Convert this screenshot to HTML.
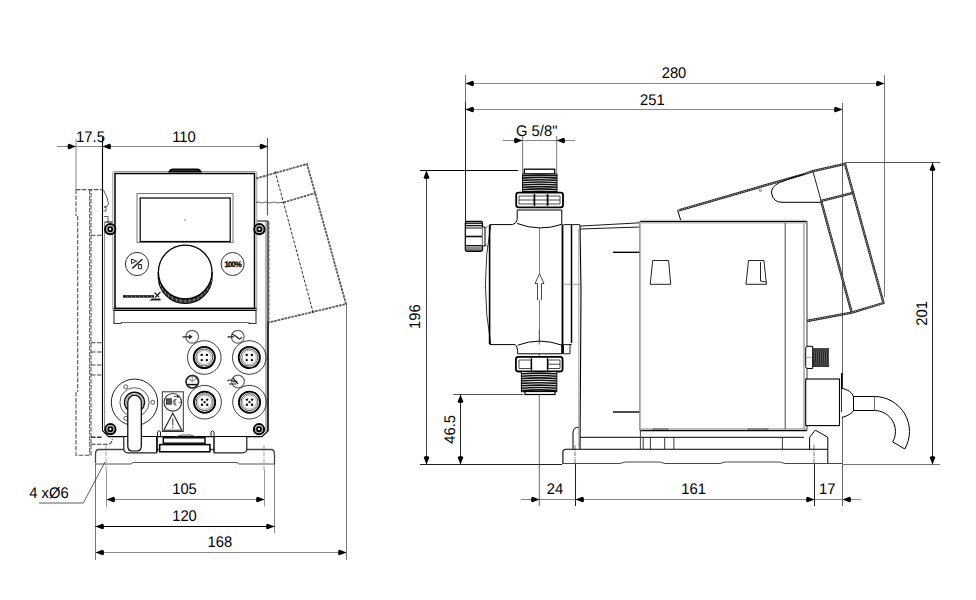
<!DOCTYPE html>
<html><head><meta charset="utf-8"><style>
html,body{margin:0;padding:0;background:#fff;width:976px;height:600px;overflow:hidden}
svg{display:block}
text{font-family:"Liberation Sans",sans-serif;fill:#000;text-rendering:geometricPrecision}
</style></head><body>
<svg width="976" height="600" viewBox="0 0 976 600">
<rect width="976" height="600" fill="#fff"/>
<line x1="57" y1="146.5" x2="268" y2="146.5" stroke="#8a8a8a" stroke-width="1" />
<line x1="76" y1="139" x2="76" y2="190" stroke="#888" stroke-width="1" />
<line x1="102.5" y1="137" x2="102.5" y2="431" stroke="#000" stroke-width="1.1" />
<line x1="267.4" y1="138" x2="267.4" y2="215.5" stroke="#333" stroke-width="0.9" />
<path d="M0,0 L-7.0,-2.8 Q-8.5,-2.8 -8.5,0 Q-8.5,2.8 -7.0,2.8 Z" fill="#000" transform="translate(76 146.5) rotate(0)"/>
<path d="M0,0 L-7.0,-2.8 Q-8.5,-2.8 -8.5,0 Q-8.5,2.8 -7.0,2.8 Z" fill="#000" transform="translate(102.5 146.5) rotate(180)"/>
<path d="M0,0 L-7.0,-2.8 Q-8.5,-2.8 -8.5,0 Q-8.5,2.8 -7.0,2.8 Z" fill="#000" transform="translate(268 146.5) rotate(0)"/>
<text x="0" y="0" text-anchor="middle" font-size="15.4" transform="translate(90.5 142) scale(0.96 1)">17.5</text>
<text x="0" y="0" text-anchor="middle" font-size="15.4" transform="translate(184 142) scale(0.96 1)">110</text>
<path d="M76,189.6 H103.5 M76,189.6 V216 M77.7,216 V392 M76,392 V455.3 H91 V190" stroke="#555" stroke-width="1.1" fill="none" stroke-dasharray="4.5 1.5"/>
<line x1="89.6" y1="190" x2="89.6" y2="455" stroke="#666" stroke-width="1.1" stroke-dasharray="4.5 1.5"/>
<line x1="91" y1="235.3" x2="102.5" y2="235.3" stroke="#444" stroke-width="1.1" stroke-dasharray="4.5 1.5"/>
<line x1="91" y1="342.7" x2="102.5" y2="342.7" stroke="#444" stroke-width="1.1" stroke-dasharray="4.5 1.5"/>
<line x1="91" y1="352" x2="102.5" y2="352" stroke="#444" stroke-width="1.1" stroke-dasharray="4.5 1.5"/>
<line x1="91" y1="365" x2="102.5" y2="365" stroke="#444" stroke-width="1.1" stroke-dasharray="4.5 1.5"/>
<line x1="91" y1="375" x2="102.5" y2="375" stroke="#444" stroke-width="1.1" stroke-dasharray="4.5 1.5"/>
<line x1="91" y1="437.3" x2="103" y2="437.3" stroke="#333" stroke-width="1.6" stroke-dasharray="4.5 1.5"/>
<path d="M91,444.3 H108 Q112.3,444 112.3,438.7" stroke="#333" stroke-width="1.1" fill="none" stroke-dasharray="4.5 1.5"/>
<path d="M103.5,190 Q108,198 108.5,204 Q108,207 104,207" stroke="#333" stroke-width="0.8" fill="none" />
<path d="M104,207 H106 V211 H103.5" stroke="#333" stroke-width="0.8" fill="none" />
<path d="M104,216.5 H108 V222" stroke="#333" stroke-width="0.8" fill="none" />
<path d="M104.6,222 H113 M256,221 H268 M102.5,430.7 L108.5,436.7 H262 L268,431 V221" stroke="#000" stroke-width="1.2" fill="none" />
<line x1="104.6" y1="222" x2="104.6" y2="431" stroke="#777" stroke-width="0.9" />
<line x1="266" y1="221" x2="266" y2="432" stroke="#444" stroke-width="0.8" />
<line x1="269" y1="222" x2="269" y2="322" stroke="#666" stroke-width="1" stroke-dasharray="3 1.5"/>
<line x1="268" y1="322" x2="268" y2="431" stroke="#000" stroke-width="1" />
<rect x="112.8" y="171.5" width="144" height="139" stroke="#999" stroke-width="1" fill="#fff" rx="1.5"/>
<rect x="115" y="173.5" width="139.5" height="135" stroke="#000" stroke-width="1.5" fill="#fff" />
<path d="M169,172 Q170,169 173,169 H197 Q200,169 201,172 Z" stroke="#000" stroke-width="1.2" fill="#222" />
<rect x="137" y="193.5" width="96" height="49" stroke="#777" stroke-width="1" fill="none" />
<rect x="140.2" y="198" width="90" height="43.5" stroke="#000" stroke-width="1.2" fill="none" />
<circle cx="185" cy="220" r="0.5" stroke="#555" stroke-width="0.5" fill="none" />
<circle cx="137" cy="264" r="11.6" stroke="#333" stroke-width="1" fill="none" />
<circle cx="232.6" cy="264" r="11.5" stroke="#333" stroke-width="1" fill="none" />
<text x="0" y="0" text-anchor="middle" font-size="8" font-weight="bold" letter-spacing="-0.7" fill="#000" stroke="#000" stroke-width="0.35" transform="translate(232.8 266.8) scale(0.95 1)">100%</text>
<path d="M131.6,259.1 L136.7,261.2 L131.6,263.5 Z M138.6,264.5 H141.6 V268.7 H138.6 Z" stroke="#222" stroke-width="1" fill="none" />
<path d="M132.3,268.4 L142.3,259.3" stroke="#222" stroke-width="1.5" fill="none" />
<path d="M158.2,272 A27,27 0 0 0 212.2,272 L212.2,276.5 A27,27 0 0 1 158.2,276.5 Z" stroke="#000" stroke-width="1.2" fill="#3a3a3a" />
<line x1="212.1" y1="275.14" x2="212.1" y2="278.05" stroke="#aaa" stroke-width="0.7" />
<line x1="211.35" y1="279.49" x2="211.35" y2="282.43" stroke="#aaa" stroke-width="0.7" />
<line x1="209.89" y1="283.65" x2="209.89" y2="286.63" stroke="#aaa" stroke-width="0.7" />
<line x1="207.76" y1="287.53" x2="207.76" y2="290.54" stroke="#aaa" stroke-width="0.7" />
<line x1="205.02" y1="291.0" x2="205.02" y2="294.04" stroke="#aaa" stroke-width="0.7" />
<line x1="201.74" y1="293.98" x2="201.74" y2="297.04" stroke="#aaa" stroke-width="0.7" />
<line x1="198.01" y1="296.39" x2="198.01" y2="299.47" stroke="#aaa" stroke-width="0.7" />
<line x1="193.94" y1="298.16" x2="193.94" y2="301.25" stroke="#aaa" stroke-width="0.7" />
<line x1="189.63" y1="299.24" x2="189.63" y2="302.33" stroke="#aaa" stroke-width="0.7" />
<line x1="185.2" y1="299.6" x2="185.2" y2="302.7" stroke="#aaa" stroke-width="0.7" />
<line x1="180.77" y1="299.24" x2="180.77" y2="302.33" stroke="#aaa" stroke-width="0.7" />
<line x1="176.46" y1="298.16" x2="176.46" y2="301.25" stroke="#aaa" stroke-width="0.7" />
<line x1="172.39" y1="296.39" x2="172.39" y2="299.47" stroke="#aaa" stroke-width="0.7" />
<line x1="168.66" y1="293.98" x2="168.66" y2="297.04" stroke="#aaa" stroke-width="0.7" />
<line x1="165.38" y1="291.0" x2="165.38" y2="294.04" stroke="#aaa" stroke-width="0.7" />
<line x1="162.64" y1="287.53" x2="162.64" y2="290.54" stroke="#aaa" stroke-width="0.7" />
<line x1="160.51" y1="283.65" x2="160.51" y2="286.63" stroke="#aaa" stroke-width="0.7" />
<line x1="159.05" y1="279.49" x2="159.05" y2="282.43" stroke="#aaa" stroke-width="0.7" />
<line x1="158.3" y1="275.14" x2="158.3" y2="278.05" stroke="#aaa" stroke-width="0.7" />
<circle cx="185.2" cy="272" r="26.8" stroke="#000" stroke-width="1.3" fill="#fff" />
<path d="M123,296.4 H154" stroke="#222" stroke-width="2.6" fill="none" />
<line x1="127" y1="295.4" x2="127.8" y2="297.4" stroke="#bbb" stroke-width="0.5" />
<line x1="131" y1="295.4" x2="131.8" y2="297.4" stroke="#bbb" stroke-width="0.5" />
<line x1="135" y1="295.4" x2="135.8" y2="297.4" stroke="#bbb" stroke-width="0.5" />
<line x1="139" y1="295.4" x2="139.8" y2="297.4" stroke="#bbb" stroke-width="0.5" />
<line x1="143" y1="295.4" x2="143.8" y2="297.4" stroke="#bbb" stroke-width="0.5" />
<line x1="147" y1="295.4" x2="147.8" y2="297.4" stroke="#bbb" stroke-width="0.5" />
<line x1="151" y1="295.4" x2="151.8" y2="297.4" stroke="#bbb" stroke-width="0.5" />
<path d="M154.5,292.5 L159,297 M155,297.5 L160.5,292" stroke="#222" stroke-width="1.2" fill="none" />
<path d="M149.5,300.6 L152,298.6 H160.5 V300.6 Z" stroke="none" stroke-width="0" fill="#222" />
<line x1="113.5" y1="308.5" x2="256.5" y2="308.5" stroke="#000" stroke-width="1.3" />
<line x1="113.5" y1="310.5" x2="256.5" y2="310.5" stroke="#000" stroke-width="1.2" />
<path d="M114,310 V323.5 H121 V322.5 M249,322.5 V323.5 H256 V310" stroke="#333" stroke-width="1.1" fill="none" />
<line x1="121" y1="322.5" x2="249" y2="322.5" stroke="#555" stroke-width="0.9" />
<circle cx="110.2" cy="229.2" r="5.1" stroke="#000" stroke-width="2" fill="#fff" />
<circle cx="110.2" cy="229.2" r="3.6" stroke="#666" stroke-width="0.7" fill="none" />
<circle cx="110.2" cy="229.2" r="2.0" stroke="#000" stroke-width="1.8" fill="none" />
<circle cx="110.2" cy="229.2" r="0.7" stroke="none" stroke-width="0" fill="#fff" />
<circle cx="259.4" cy="229.2" r="5.1" stroke="#000" stroke-width="2" fill="#fff" />
<circle cx="259.4" cy="229.2" r="3.6" stroke="#666" stroke-width="0.7" fill="none" />
<circle cx="259.4" cy="229.2" r="2.0" stroke="#000" stroke-width="1.8" fill="none" />
<circle cx="259.4" cy="229.2" r="0.7" stroke="none" stroke-width="0" fill="#fff" />
<circle cx="110.4" cy="429.2" r="5.1" stroke="#000" stroke-width="2" fill="#fff" />
<circle cx="110.4" cy="429.2" r="3.6" stroke="#666" stroke-width="0.7" fill="none" />
<circle cx="110.4" cy="429.2" r="2.0" stroke="#000" stroke-width="1.8" fill="none" />
<circle cx="110.4" cy="429.2" r="0.7" stroke="none" stroke-width="0" fill="#fff" />
<circle cx="259" cy="429.2" r="5.1" stroke="#000" stroke-width="2" fill="#fff" />
<circle cx="259" cy="429.2" r="3.6" stroke="#666" stroke-width="0.7" fill="none" />
<circle cx="259" cy="429.2" r="2.0" stroke="#000" stroke-width="1.8" fill="none" />
<circle cx="259" cy="429.2" r="0.7" stroke="none" stroke-width="0" fill="#fff" />
<circle cx="204.3" cy="357.5" r="16.8" stroke="#222" stroke-width="0.9" fill="none" />
<circle cx="204.3" cy="357.5" r="10.6" stroke="#000" stroke-width="1.8" fill="none" />
<circle cx="204.3" cy="357.5" r="8.5" stroke="#222" stroke-width="0.8" fill="none" />
<circle cx="204.3" cy="357.5" r="7" stroke="#777" stroke-width="0.6" fill="none" />
<circle cx="201.70000000000002" cy="354.9" r="1.2" stroke="none" stroke-width="0" fill="#000" />
<circle cx="201.70000000000002" cy="360.1" r="1.2" stroke="none" stroke-width="0" fill="#000" />
<circle cx="206.9" cy="354.9" r="1.2" stroke="none" stroke-width="0" fill="#000" />
<circle cx="206.9" cy="360.1" r="1.2" stroke="none" stroke-width="0" fill="#000" />
<circle cx="249.3" cy="357.5" r="16.8" stroke="#222" stroke-width="0.9" fill="none" />
<circle cx="249.3" cy="357.5" r="10.6" stroke="#000" stroke-width="1.8" fill="none" />
<circle cx="249.3" cy="357.5" r="8.5" stroke="#222" stroke-width="0.8" fill="none" />
<circle cx="249.3" cy="357.5" r="7" stroke="#777" stroke-width="0.6" fill="none" />
<circle cx="246.70000000000002" cy="354.9" r="1.2" stroke="none" stroke-width="0" fill="#000" />
<circle cx="246.70000000000002" cy="360.1" r="1.2" stroke="none" stroke-width="0" fill="#000" />
<circle cx="251.9" cy="354.9" r="1.2" stroke="none" stroke-width="0" fill="#000" />
<circle cx="251.9" cy="360.1" r="1.2" stroke="none" stroke-width="0" fill="#000" />
<circle cx="204.6" cy="402.2" r="16.8" stroke="#222" stroke-width="0.9" fill="none" />
<circle cx="204.6" cy="402.2" r="10.6" stroke="#000" stroke-width="1.8" fill="none" />
<circle cx="204.6" cy="402.2" r="8.5" stroke="#222" stroke-width="0.8" fill="none" />
<circle cx="204.6" cy="402.2" r="7" stroke="#777" stroke-width="0.6" fill="none" />
<circle cx="202.0" cy="399.59999999999997" r="1.2" stroke="none" stroke-width="0" fill="#000" />
<circle cx="202.0" cy="404.8" r="1.2" stroke="none" stroke-width="0" fill="#000" />
<circle cx="207.2" cy="399.59999999999997" r="1.2" stroke="none" stroke-width="0" fill="#000" />
<circle cx="207.2" cy="404.8" r="1.2" stroke="none" stroke-width="0" fill="#000" />
<circle cx="204.6" cy="402.2" r="1.1" stroke="none" stroke-width="0" fill="#000" />
<circle cx="249.5" cy="402.2" r="16.8" stroke="#222" stroke-width="0.9" fill="none" />
<circle cx="249.5" cy="402.2" r="10.6" stroke="#000" stroke-width="1.8" fill="none" />
<circle cx="249.5" cy="402.2" r="8.5" stroke="#222" stroke-width="0.8" fill="none" />
<circle cx="249.5" cy="402.2" r="7" stroke="#777" stroke-width="0.6" fill="none" />
<circle cx="246.9" cy="399.59999999999997" r="1.2" stroke="none" stroke-width="0" fill="#000" />
<circle cx="246.9" cy="404.8" r="1.2" stroke="none" stroke-width="0" fill="#000" />
<circle cx="252.1" cy="399.59999999999997" r="1.2" stroke="none" stroke-width="0" fill="#000" />
<circle cx="252.1" cy="404.8" r="1.2" stroke="none" stroke-width="0" fill="#000" />
<circle cx="249.5" cy="402.2" r="1.1" stroke="none" stroke-width="0" fill="#000" />
<circle cx="192.2" cy="336.8" r="6.4" stroke="#666" stroke-width="1.2" fill="none" />
<circle cx="237.7" cy="336.8" r="6.4" stroke="#666" stroke-width="1.2" fill="none" />
<circle cx="192.5" cy="381.5" r="6.4" stroke="#666" stroke-width="1.2" fill="none" />
<circle cx="238" cy="381.5" r="6.4" stroke="#666" stroke-width="1.2" fill="none" />
<path d="M182.5,336.8 H191.5 M189,335 L191.5,336.8 L189,338.6" stroke="#222" stroke-width="1.3" fill="none" />
<path d="M227.5,336.8 H234 M232,334 Q236,336 238,338 Q240,340 242,337" stroke="#222" stroke-width="1.3" fill="none" />
<path d="M187.5,378 L192.2,381.5 L196.9,378 M192.2,376 V382" stroke="#999" stroke-width="1.2" fill="none" />
<path d="M186.5,384.6 H198" stroke="#111" stroke-width="1.5" fill="none" />
<circle cx="192.2" cy="381.8" r="6.2" stroke="#222" stroke-width="1.4" fill="none" />
<path d="M227.5,381 Q230,379 233,381 T237,381 M229,384 H236 M233,378 L238,384" stroke="#222" stroke-width="1.2" fill="none" />
<path d="M95.5,463 V454 Q95.5,449.5 99,449.5 H271 Q274.5,449.5 274.5,454 V464" stroke="#444" stroke-width="1.3" fill="none" />
<line x1="95.5" y1="464" x2="95.5" y2="560" stroke="#777" stroke-width="1" />
<line x1="274.5" y1="464" x2="274.5" y2="533" stroke="#888" stroke-width="1" />
<path d="M95,464 H131 L133,462.5 H237 L239,464 H275" stroke="#555" stroke-width="1" fill="none" />
<circle cx="134.5" cy="402.3" r="23.2" stroke="#222" stroke-width="1" fill="none" />
<circle cx="134.5" cy="402.3" r="14.6" stroke="#333" stroke-width="0.8" fill="none" />
<circle cx="134.5" cy="402.3" r="10" stroke="#111" stroke-width="1.4" fill="none" />
<circle cx="134.5" cy="402.3" r="8.2" stroke="#666" stroke-width="0.7" fill="none" />
<circle cx="125.8" cy="386.8" r="2" stroke="#333" stroke-width="0.8" fill="#fff" />
<circle cx="152.8" cy="402.3" r="2" stroke="#333" stroke-width="0.8" fill="#fff" />
<circle cx="125.8" cy="418.3" r="2" stroke="#333" stroke-width="0.8" fill="#fff" />
<rect x="162.3" y="391.8" width="21" height="39.7" stroke="#333" stroke-width="1" fill="none" />
<circle cx="172.8" cy="402.3" r="8.8" stroke="#333" stroke-width="1.1" fill="none" />
<rect x="166.3" y="398.8" width="5" height="5.4" stroke="#222" stroke-width="0.8" fill="#555" />
<path d="M176.5,399.5 A2.8,2.8 0 1 0 176.5,405 M175,399.5 V405 M179.3,402.3 H181 M174,396.5 H179 M177,395 L179,396.5 L177,398" stroke="#333" stroke-width="0.9" fill="none" />
<path d="M163.8,430.3 L172.8,413.2 L181.8,430.3 Z" stroke="#222" stroke-width="1.1" fill="none" />
<path d="M172.8,418.5 V425.5 M172.8,427 V428.3" stroke="#333" stroke-width="1" fill="none" />
<path d="M123.8,437 V449 Q124,452.8 128,452.8 H156.6 V437" stroke="#222" stroke-width="1.2" fill="#fff" />
<path d="M214,437 V452.8 H242 Q246.8,452.8 246.8,449 V437" stroke="#222" stroke-width="1.2" fill="#fff" />
<path d="M157.6,452 V432 Q159,429 160.5,432 V437 M211,437 V432 Q212.5,429 214,432 V452" stroke="#222" stroke-width="1" fill="none" />
<rect x="159.7" y="444.6" width="50.2" height="7.2" stroke="#000" stroke-width="1.5" fill="#fff" />
<rect x="163.3" y="437.8" width="41.7" height="5.4" stroke="#000" stroke-width="1.4" fill="#fff" />
<path d="M175,437 L182,435 L190,435 L197,437" stroke="#333" stroke-width="0.8" fill="none" />
<path d="M127.8,446 V402 A6.75,6.75 0 0 1 141.3,402 V446 Q141.3,451 137,451 H132 Q127.8,451 127.8,446 Z" stroke="#000" stroke-width="1.2" fill="#fff" />
<line x1="106" y1="445" x2="106" y2="470" stroke="#888" stroke-width="0.8" stroke-dasharray="4 1 1 1"/>
<line x1="106.5" y1="470" x2="106.5" y2="507" stroke="#999" stroke-width="1" />
<line x1="264" y1="445" x2="264" y2="470" stroke="#888" stroke-width="0.8" stroke-dasharray="4 1 1 1"/>
<line x1="264.5" y1="470" x2="264.5" y2="506.5" stroke="#999" stroke-width="1" />
<path d="M39,503 H83.3 L105,462" stroke="#333" stroke-width="0.8" fill="none" />
<text x="0" y="0" text-anchor="middle" font-size="15.4" transform="translate(49 498) scale(0.96 1)">4 xØ6</text>
<line x1="106.5" y1="499.5" x2="264.5" y2="499.5" stroke="#8a8a8a" stroke-width="1" />
<path d="M0,0 L-7.0,-2.8 Q-8.5,-2.8 -8.5,0 Q-8.5,2.8 -7.0,2.8 Z" fill="#000" transform="translate(106.5 499.5) rotate(180)"/>
<path d="M0,0 L-7.0,-2.8 Q-8.5,-2.8 -8.5,0 Q-8.5,2.8 -7.0,2.8 Z" fill="#000" transform="translate(264.5 499.5) rotate(0)"/>
<text x="0" y="0" text-anchor="middle" font-size="15.4" transform="translate(184.5 494) scale(0.96 1)">105</text>
<line x1="95.5" y1="526.5" x2="274.5" y2="526.5" stroke="#000" stroke-width="1" />
<path d="M0,0 L-7.0,-2.8 Q-8.5,-2.8 -8.5,0 Q-8.5,2.8 -7.0,2.8 Z" fill="#000" transform="translate(95.5 526.5) rotate(180)"/>
<path d="M0,0 L-7.0,-2.8 Q-8.5,-2.8 -8.5,0 Q-8.5,2.8 -7.0,2.8 Z" fill="#000" transform="translate(274.5 526.5) rotate(0)"/>
<text x="0" y="0" text-anchor="middle" font-size="15.4" transform="translate(184.5 521) scale(0.96 1)">120</text>
<line x1="95.5" y1="552.5" x2="346.5" y2="552.5" stroke="#8a8a8a" stroke-width="1" />
<path d="M0,0 L-7.0,-2.8 Q-8.5,-2.8 -8.5,0 Q-8.5,2.8 -7.0,2.8 Z" fill="#000" transform="translate(95.5 552.5) rotate(180)"/>
<path d="M0,0 L-7.0,-2.8 Q-8.5,-2.8 -8.5,0 Q-8.5,2.8 -7.0,2.8 Z" fill="#000" transform="translate(346.5 552.5) rotate(0)"/>
<text x="0" y="0" text-anchor="middle" font-size="15.4" transform="translate(219.8 547) scale(0.96 1)">168</text>
<line x1="346.5" y1="304" x2="346.5" y2="560" stroke="#555" stroke-width="0.8" />
<path d="M256,178.5 L307,164 L346,304 L268.5,322.5 M283.5,202.5 L315.5,193" stroke="#3a3a3a" stroke-width="1.7" fill="none" stroke-dasharray="2.5 1"/>
<path d="M256,178.5 L307,164 L346,304 L268.5,322.5 M283.5,202.5 L315.5,193" stroke="#999" stroke-width="0.5" fill="none"/>
<path d="M275,171 L313.4,313.6" stroke="#333" stroke-width="1" fill="none" stroke-dasharray="3 1.5"/>
<path d="M256,202.5 Q258,201.5 260,202.5 T264,202.5 T268,202.5 T272,202.5 T276,202.5 T280,202.5 H283.5" stroke="#444" stroke-width="0.8" fill="none" />
<line x1="465.5" y1="83.5" x2="884.5" y2="83.5" stroke="#8a8a8a" stroke-width="1" />
<path d="M0,0 L-7.0,-2.8 Q-8.5,-2.8 -8.5,0 Q-8.5,2.8 -7.0,2.8 Z" fill="#000" transform="translate(465.5 83.5) rotate(180)"/>
<path d="M0,0 L-7.0,-2.8 Q-8.5,-2.8 -8.5,0 Q-8.5,2.8 -7.0,2.8 Z" fill="#000" transform="translate(884.5 83.5) rotate(0)"/>
<text x="0" y="0" text-anchor="middle" font-size="15.4" transform="translate(674 78) scale(0.96 1)">280</text>
<line x1="465.5" y1="109.5" x2="842.5" y2="109.5" stroke="#8a8a8a" stroke-width="1" />
<path d="M0,0 L-7.0,-2.8 Q-8.5,-2.8 -8.5,0 Q-8.5,2.8 -7.0,2.8 Z" fill="#000" transform="translate(465.5 109.5) rotate(180)"/>
<path d="M0,0 L-7.0,-2.8 Q-8.5,-2.8 -8.5,0 Q-8.5,2.8 -7.0,2.8 Z" fill="#000" transform="translate(842.5 109.5) rotate(0)"/>
<text x="0" y="0" text-anchor="middle" font-size="15.4" transform="translate(652.3 105) scale(0.96 1)">251</text>
<line x1="465.5" y1="75" x2="465.5" y2="102" stroke="#777" stroke-width="1" />
<line x1="465.5" y1="102" x2="465.5" y2="222" stroke="#222" stroke-width="1" />
<line x1="884.5" y1="75" x2="884.5" y2="297" stroke="#777" stroke-width="1" />
<line x1="842.5" y1="103" x2="842.5" y2="506" stroke="#666" stroke-width="1" />
<line x1="503" y1="140.5" x2="575" y2="140.5" stroke="#8a8a8a" stroke-width="1" />
<path d="M0,0 L-7.0,-2.8 Q-8.5,-2.8 -8.5,0 Q-8.5,2.8 -7.0,2.8 Z" fill="#000" transform="translate(522.5 140.5) rotate(0)"/>
<path d="M0,0 L-7.0,-2.8 Q-8.5,-2.8 -8.5,0 Q-8.5,2.8 -7.0,2.8 Z" fill="#000" transform="translate(556.5 140.5) rotate(180)"/>
<line x1="522.7" y1="136" x2="522.7" y2="173" stroke="#555" stroke-width="0.8" />
<line x1="556.7" y1="136" x2="556.7" y2="173" stroke="#555" stroke-width="0.8" />
<text x="0" y="0" text-anchor="middle" font-size="15.4" transform="translate(536.7 136) scale(0.96 1)">G 5/8"</text>
<line x1="420" y1="170.5" x2="518" y2="170.5" stroke="#000" stroke-width="1" />
<line x1="426.5" y1="170.5" x2="426.5" y2="464.5" stroke="#444" stroke-width="1" />
<path d="M0,0 L-7.0,-2.8 Q-8.5,-2.8 -8.5,0 Q-8.5,2.8 -7.0,2.8 Z" fill="#000" transform="translate(426.5 170.5) rotate(270)"/>
<path d="M0,0 L-7.0,-2.8 Q-8.5,-2.8 -8.5,0 Q-8.5,2.8 -7.0,2.8 Z" fill="#000" transform="translate(426.5 464.5) rotate(90)"/>
<text x="0" y="0" text-anchor="middle" font-size="15.4" transform="translate(420 316.7) rotate(-90) scale(0.96 1)">196</text>
<line x1="453.3" y1="394.5" x2="523.3" y2="394.5" stroke="#555" stroke-width="1" />
<line x1="460.5" y1="394.5" x2="460.5" y2="464.5" stroke="#222" stroke-width="1" />
<path d="M0,0 L-7.0,-2.8 Q-8.5,-2.8 -8.5,0 Q-8.5,2.8 -7.0,2.8 Z" fill="#000" transform="translate(460.5 394.5) rotate(270)"/>
<path d="M0,0 L-7.0,-2.8 Q-8.5,-2.8 -8.5,0 Q-8.5,2.8 -7.0,2.8 Z" fill="#000" transform="translate(460.5 464.5) rotate(90)"/>
<text x="0" y="0" text-anchor="middle" font-size="15.4" transform="translate(455 429.3) rotate(-90) scale(0.96 1)">46.5</text>
<line x1="420" y1="464.5" x2="562" y2="464.5" stroke="#222" stroke-width="1" />
<line x1="842" y1="464.5" x2="940" y2="464.5" stroke="#777" stroke-width="1" />
<line x1="845" y1="162.5" x2="940" y2="162.5" stroke="#555" stroke-width="1" />
<line x1="932.5" y1="162.5" x2="932.5" y2="464.5" stroke="#222" stroke-width="1" />
<path d="M0,0 L-7.0,-2.8 Q-8.5,-2.8 -8.5,0 Q-8.5,2.8 -7.0,2.8 Z" fill="#000" transform="translate(932.5 162.5) rotate(270)"/>
<path d="M0,0 L-7.0,-2.8 Q-8.5,-2.8 -8.5,0 Q-8.5,2.8 -7.0,2.8 Z" fill="#000" transform="translate(932.5 464.5) rotate(90)"/>
<text x="0" y="0" text-anchor="middle" font-size="15.4" transform="translate(926.7 313.3) rotate(-90) scale(0.96 1)">201</text>
<line x1="520.7" y1="499.5" x2="860.7" y2="499.5" stroke="#8a8a8a" stroke-width="1" />
<path d="M0,0 L-7.0,-2.8 Q-8.5,-2.8 -8.5,0 Q-8.5,2.8 -7.0,2.8 Z" fill="#000" transform="translate(539.5 499.5) rotate(0)"/>
<path d="M0,0 L-7.0,-2.8 Q-8.5,-2.8 -8.5,0 Q-8.5,2.8 -7.0,2.8 Z" fill="#000" transform="translate(575.5 499.5) rotate(180)"/>
<path d="M0,0 L-7.0,-2.8 Q-8.5,-2.8 -8.5,0 Q-8.5,2.8 -7.0,2.8 Z" fill="#000" transform="translate(814.5 499.5) rotate(0)"/>
<path d="M0,0 L-7.0,-2.8 Q-8.5,-2.8 -8.5,0 Q-8.5,2.8 -7.0,2.8 Z" fill="#000" transform="translate(842.5 499.5) rotate(180)"/>
<text x="0" y="0" text-anchor="middle" font-size="15.4" transform="translate(555 494) scale(0.96 1)">24</text>
<text x="0" y="0" text-anchor="middle" font-size="15.4" transform="translate(693.7 494) scale(0.96 1)">161</text>
<text x="0" y="0" text-anchor="middle" font-size="15.4" transform="translate(827.3 494) scale(0.96 1)">17</text>
<line x1="539.3" y1="330" x2="539.3" y2="506" stroke="#444" stroke-width="0.8" />
<line x1="575" y1="445" x2="575" y2="464" stroke="#555" stroke-width="0.8" stroke-dasharray="4 1 1 1"/>
<line x1="575.5" y1="464" x2="575.5" y2="506" stroke="#222" stroke-width="1" />
<line x1="814" y1="445" x2="814" y2="464" stroke="#555" stroke-width="0.8" stroke-dasharray="4 1 1 1"/>
<line x1="814.5" y1="464" x2="814.5" y2="506" stroke="#222" stroke-width="1" />
<path d="M490.8,224.6 Q480,284.5 490.8,344.6" stroke="#000" stroke-width="0.8" fill="none" />
<line x1="489.6" y1="225" x2="489.6" y2="344" stroke="#000" stroke-width="1.6" />
<path d="M489.6,224.6 H512.5 Q516,224 517.2,219.8 V210 H561.8 V224.6" stroke="#000" stroke-width="1" fill="#fff" />
<path d="M517.2,223.5 Q539.5,232 562,224.3" stroke="#000" stroke-width="1" fill="none" />
<path d="M489.6,344.6 H515 Q517.7,346 517.7,353.8 H561.8 V344.6" stroke="#000" stroke-width="1" fill="#fff" />
<path d="M517.7,345.2 Q539.5,337 562,345.2" stroke="#000" stroke-width="1" fill="none" />
<line x1="562.5" y1="224.6" x2="562.5" y2="353.8" stroke="#000" stroke-width="1.8" />
<path d="M563.5,224.6 H580 M563.5,344.6 H571.8" stroke="#000" stroke-width="0.9" fill="none" />
<line x1="571.5" y1="225" x2="571.5" y2="343" stroke="#000" stroke-width="1.5" />
<path d="M580,225 L581,290 L580,449" stroke="#000" stroke-width="1.1" fill="none" />
<line x1="562" y1="284.3" x2="580" y2="284.3" stroke="#666" stroke-width="0.6" />
<path d="M563.5,344.6 V353.8 H570 V344.6" stroke="#000" stroke-width="0.9" fill="none" />
<line x1="539.5" y1="228" x2="539.5" y2="341" stroke="#444" stroke-width="0.7" />
<path d="M537.5,300 V283.5 H535 L539.5,273.8 L544,283.5 H541.5 V300" stroke="#333" stroke-width="0.9" fill="#fff" />
<rect x="524.3" y="169.2" width="30.4" height="4.8" stroke="#000" stroke-width="1.3" fill="#fff" />
<rect x="522.5" y="174" width="34.5" height="18.7" stroke="#000" stroke-width="1" fill="#fff" />
<path d="M522.5,175.8 Q539.7,174.4 557,175.8" stroke="#111" stroke-width="1.6" fill="none" />
<path d="M522.5,178.1 Q539.7,176.7 557,178.1" stroke="#111" stroke-width="1.6" fill="none" />
<path d="M522.5,180.4 Q539.7,179.0 557,180.4" stroke="#111" stroke-width="1.6" fill="none" />
<path d="M522.5,182.7 Q539.7,181.3 557,182.7" stroke="#111" stroke-width="1.6" fill="none" />
<path d="M522.5,185.0 Q539.7,183.6 557,185.0" stroke="#111" stroke-width="1.6" fill="none" />
<path d="M522.5,187.3 Q539.7,185.9 557,187.3" stroke="#111" stroke-width="1.6" fill="none" />
<path d="M522.5,189.6 Q539.7,188.2 557,189.6" stroke="#111" stroke-width="1.6" fill="none" />
<path d="M522.5,191.9 Q539.7,190.5 557,191.9" stroke="#111" stroke-width="1.6" fill="none" />
<path d="M516.2,195 Q516.2,192.7 518.5,192.7 H560.7 Q563,192.7 563,195 V205.1 Q563,207.4 560.7,207.4 H518.5 Q516.2,207.4 516.2,205.1 Z" stroke="#000" stroke-width="1.8" fill="#fff" />
<path d="M519,196 H534 V204 H519 Z M535,196 H547 M535,204 H547 M548,196 H560 V204 H548 Z M519,200 H560" stroke="#333" stroke-width="0.9" fill="none" />
<line x1="534.5" y1="194" x2="534.5" y2="206" stroke="#000" stroke-width="1.5" />
<line x1="547.5" y1="194" x2="547.5" y2="206" stroke="#000" stroke-width="1.5" />
<path d="M515.9,359.4 Q515.9,356.9 518.4,356.9 H560.1 Q562.6,356.9 562.6,359.4 V369 Q562.6,371.5 560.1,371.5 H518.4 Q515.9,371.5 515.9,369 Z" stroke="#000" stroke-width="1.8" fill="#fff" />
<path d="M519,360 H531 V368.5 H519 Z M548,360 H560 V368.5 H548 Z M548,364.2 H560" stroke="#333" stroke-width="0.9" fill="none" />
<line x1="531.5" y1="358" x2="531.5" y2="370.5" stroke="#000" stroke-width="1.3" />
<line x1="547.5" y1="358" x2="547.5" y2="370.5" stroke="#000" stroke-width="1.3" />
<rect x="521.4" y="371.5" width="35.4" height="20.2" stroke="#000" stroke-width="1" fill="#fff" />
<path d="M521.4,373.8 Q539.1,372.4 556.8,373.8" stroke="#111" stroke-width="1.6" fill="none" />
<path d="M521.4,376.2 Q539.1,374.8 556.8,376.2" stroke="#111" stroke-width="1.6" fill="none" />
<path d="M521.4,378.6 Q539.1,377.2 556.8,378.6" stroke="#111" stroke-width="1.6" fill="none" />
<path d="M521.4,381.0 Q539.1,379.6 556.8,381.0" stroke="#111" stroke-width="1.6" fill="none" />
<path d="M521.4,383.4 Q539.1,382.0 556.8,383.4" stroke="#111" stroke-width="1.6" fill="none" />
<path d="M521.4,385.8 Q539.1,384.4 556.8,385.8" stroke="#111" stroke-width="1.6" fill="none" />
<path d="M521.4,388.2 Q539.1,386.8 556.8,388.2" stroke="#111" stroke-width="1.6" fill="none" />
<path d="M521.4,390.6 Q539.1,389.2 556.8,390.6" stroke="#111" stroke-width="1.6" fill="none" />
<rect x="525" y="391.5" width="30" height="3" stroke="#000" stroke-width="1.2" fill="#fff" />
<path d="M465.3,223 Q465.3,221.3 467,221.3 H480.8 Q482.5,221.3 482.5,223 V249.6 Q482.5,251.3 480.8,251.3 H467 Q465.3,251.3 465.3,249.6 Z" stroke="#000" stroke-width="1.2" fill="#fff" />
<line x1="465.3" y1="223.2" x2="482.5" y2="223.2" stroke="#111" stroke-width="1.4" />
<line x1="465.3" y1="225.6" x2="482.5" y2="225.6" stroke="#111" stroke-width="1.4" />
<line x1="465.3" y1="228" x2="482.5" y2="228" stroke="#111" stroke-width="1" />
<line x1="465.3" y1="236.5" x2="482.5" y2="236.5" stroke="#111" stroke-width="1.6" />
<line x1="465.3" y1="245.6" x2="482.5" y2="245.6" stroke="#111" stroke-width="1.2" />
<line x1="465.3" y1="250" x2="482.5" y2="250" stroke="#111" stroke-width="1.2" />
<rect x="465.8" y="246.4" width="16.2" height="3" stroke="none" stroke-width="0" fill="#888" />
<path d="M482.5,227 H485 V246 H482.5" stroke="#000" stroke-width="1" fill="#fff" />
<path d="M485,229 L487.5,226 M485,244 L487.5,247" stroke="#333" stroke-width="0.8" fill="none" />
<path d="M580,226.1 L640,222.8 M580,229 L640,227" stroke="#000" stroke-width="0.9" fill="none" />
<line x1="613" y1="252.3" x2="640" y2="252.3" stroke="#000" stroke-width="1.4" />
<line x1="613" y1="412" x2="640" y2="412" stroke="#000" stroke-width="1.4" />
<path d="M573,449 V432 Q573.5,427.3 578.7,427.3" stroke="#000" stroke-width="1" fill="none" />
<line x1="580" y1="437.3" x2="804" y2="437.3" stroke="#000" stroke-width="1" />
<line x1="640.4" y1="430" x2="640.4" y2="449" stroke="#444" stroke-width="1" />
<line x1="578.8" y1="229" x2="578.8" y2="447" stroke="#888" stroke-width="0.8" />
<path d="M643.2,437.3 V449 M650.4,437.3 V449 M664.7,437.3 V449 M673.9,437.3 V449 M782.4,437.3 V449" stroke="#222" stroke-width="0.9" fill="none" />
<rect x="640.2" y="221.6" width="166.6" height="209" stroke="none" stroke-width="0" fill="#fff" />
<path d="M640,221.6 H806.8" stroke="#000" stroke-width="1.3" fill="none" />
<line x1="640" y1="220.3" x2="807" y2="220.3" stroke="#bbb" stroke-width="1" />
<line x1="807" y1="221" x2="807" y2="430.6" stroke="#666" stroke-width="1.3" />
<line x1="640.2" y1="430.6" x2="807" y2="430.6" stroke="#000" stroke-width="1.3" />
<line x1="639.9" y1="221" x2="639.9" y2="430.6" stroke="#888" stroke-width="1.4" />
<line x1="641" y1="223" x2="806" y2="223" stroke="#aaa" stroke-width="0.9" />
<path d="M653,431 V429 H668 V431 M748,431 V429 H768 V431" stroke="#333" stroke-width="0.8" fill="none" />
<line x1="640.2" y1="429" x2="806" y2="429" stroke="#444" stroke-width="0.7" />
<line x1="785.2" y1="223" x2="785.2" y2="429" stroke="#333" stroke-width="0.9" />
<line x1="804" y1="223.5" x2="804" y2="429" stroke="#777" stroke-width="1" />
<path d="M650.2,284.3 L652.7,260.5 H668.6 L670.7,284.3 Z" stroke="#222" stroke-width="1" fill="none" />
<path d="M746,284.3 L748.5,260.5 H763.9 L766.5,284.3 Z M760.5,262 V281 L766,282" stroke="#222" stroke-width="1" fill="none" />
<path d="M562.9,464 V452.5 Q562.9,449.3 566,449.3 H827.8" stroke="#000" stroke-width="1.1" fill="none" />
<path d="M809.6,449.3 V437.3 L815.3,430.1 L827.8,437.3 V464" stroke="#000" stroke-width="1" fill="none" />
<path d="M562.9,463.5 H620 L625,462 H660 L665,463.5 H720 L725,462 H780 L785,463.5 H842" stroke="#333" stroke-width="0.9" fill="none" />
<path d="M677.6,210 L680.7,220.2" stroke="#000" stroke-width="1" fill="none" />
<path d="M678.8,210.3 L803,174.5 Q809,172.5 813,171.2 L845,163.8 L883.5,303 L851.7,312.6 L807,321" stroke="#1a1a1a" stroke-width="2.3" fill="none" stroke-linejoin="round"/>
<path d="M678.8,210.3 L803,174.5 Q809,172.5 813,171.2 L845,163.8 L883.5,303 L851.7,312.6 L807,321" stroke="#c8c8c8" stroke-width="0.80" fill="none" stroke-dasharray="1.6 0.8" stroke-linejoin="round"/>
<path d="M813,171.5 L821,200.5" stroke="#222" stroke-width="1" fill="none" />
<path d="M821,200.5 L851.7,312.6" stroke="#1a1a1a" stroke-width="2.3" fill="none" stroke-linejoin="round"/>
<path d="M821,200.5 L851.7,312.6" stroke="#c8c8c8" stroke-width="0.80" fill="none" stroke-dasharray="1.6 0.8" stroke-linejoin="round"/>
<path d="M820.5,201.2 L853,192.8" stroke="#1a1a1a" stroke-width="2.3" fill="none" stroke-linejoin="round"/>
<path d="M820.5,201.2 L853,192.8" stroke="#c8c8c8" stroke-width="0.80" fill="none" stroke-dasharray="1.6 0.8" stroke-linejoin="round"/>
<path d="M804,174.2 Q790,178 779.4,182.6 Q771,187 771.5,193 Q773,202.3 782,202.3 H820.5" stroke="#000" stroke-width="1" fill="none" />
<circle cx="760.4" cy="190.5" r="1" stroke="#444" stroke-width="0.7" fill="none" />
<path d="M805.7,348 Q805.7,346.3 808,346.3 H812.7 V368.5 H808 Q805.7,368.5 805.7,366.5 Z" stroke="#000" stroke-width="1" fill="#fff" />
<line x1="805.7" y1="357.4" x2="812.7" y2="357.4" stroke="#666" stroke-width="0.6" />
<rect x="812.7" y="348.2" width="16.3" height="18.7" stroke="none" stroke-width="0" fill="#222" />
<line x1="814" y1="349" x2="815" y2="366" stroke="#888" stroke-width="0.6" />
<line x1="816" y1="349" x2="817" y2="366" stroke="#888" stroke-width="0.6" />
<line x1="818" y1="349" x2="819" y2="366" stroke="#888" stroke-width="0.6" />
<line x1="820" y1="349" x2="821" y2="366" stroke="#888" stroke-width="0.6" />
<line x1="822" y1="349" x2="823" y2="366" stroke="#888" stroke-width="0.6" />
<line x1="824" y1="349" x2="825" y2="366" stroke="#888" stroke-width="0.6" />
<line x1="826" y1="349" x2="827" y2="366" stroke="#888" stroke-width="0.6" />
<line x1="828" y1="349" x2="829" y2="366" stroke="#888" stroke-width="0.6" />
<rect x="805.7" y="379" width="33.8" height="46.6" stroke="#000" stroke-width="1.1" fill="#fff" />
<line x1="841.8" y1="373" x2="841.8" y2="412" stroke="#000" stroke-width="1.6" />
<path d="M841.8,388.3 Q851,390 853.5,396.5 V410.5 Q851,415 841.8,417.5" stroke="#000" stroke-width="1" fill="#fff" />
<path d="M853.5,396.5 H874.5 A35,35 0 0 1 904.8,449 L892.7,441.9 A21,21 0 0 0 874.5,410.5 H853.5 Z" stroke="#000" stroke-width="1" fill="#fff" />
<line x1="874.5" y1="396.5" x2="874.5" y2="410.5" stroke="#444" stroke-width="0.8" />
</svg>
</body></html>
